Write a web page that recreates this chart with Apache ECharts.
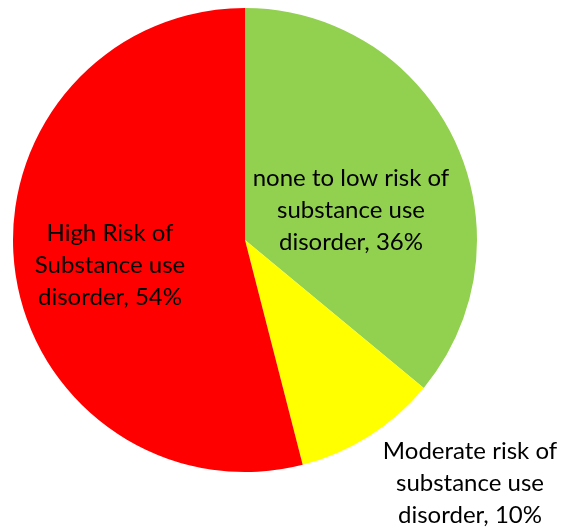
<!DOCTYPE html>
<html>
<head>
<meta charset="utf-8">
<script src="https://cdn.jsdelivr.net/npm/echarts@6/dist/echarts.min.js"></script>
<style>
html,body{margin:0;padding:0;background:#fff;}
#chart{width:566px;height:529px;}
</style>
</head>
<body>
<div id="chart"></div>
<script>
const categories = [
  'none to low risk of\nsubstance use\ndisorder',
  'Moderate risk of\nsubstance use\ndisorder',
  'High Risk of\nSubstance use\ndisorder'
];
const values = [36, 10, 54];
const colors = ['#92D050', '#FFFF00', '#FF0000'];
const labelSpots = [[351, 210], [470, 483], [110, 265]];

const chart = echarts.init(document.getElementById('chart'));
chart.setOption({
  animation: false,
  series: [{
    type: 'pie',
    center: [245, 240],
    radius: 232,
    startAngle: 90,
    clockwise: true,
    avoidLabelOverlap: false,
    data: categories.map((c, i) => ({
      name: c,
      value: values[i],
      itemStyle: { color: colors[i] }
    })),
    label: {
      show: true,
      position: 'inside',
      formatter: p => p.name + ', ' + p.value + '%',
      fontFamily: 'Lato',
      fontSize: 24,
      lineHeight: 32,
      color: '#000',
      align: 'center'
    },
    labelLine: { show: false },
    labelLayout: p => ({
      x: labelSpots[p.dataIndex][0],
      y: labelSpots[p.dataIndex][1],
      align: 'center',
      verticalAlign: 'middle'
    }),
    emphasis: { disabled: true }
  }]
});
</script>
</body>
</html>
